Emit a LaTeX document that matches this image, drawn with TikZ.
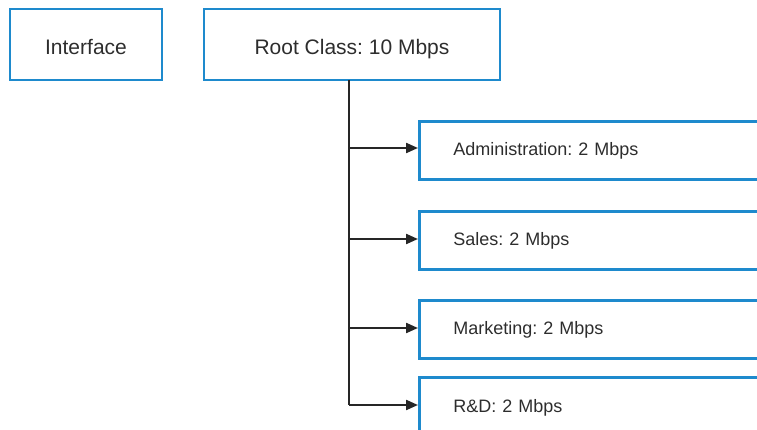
\documentclass[tikz,border=0pt]{standalone}
\usepackage{fontspec}
\setmainfont{Liberation Sans}
\usetikzlibrary{arrows.meta}
\definecolor{boxblue}{RGB}{30,138,205}
\definecolor{txt}{RGB}{45,45,45}
\frenchspacing
\tikzset{
  bigbox/.style={draw=boxblue, line width=2.8pt, rectangle, minimum height=71pt, text=txt, font=\fontsize{21}{25}\selectfont, inner sep=0pt, text height=21pt, text depth=0pt},
  classbox/.style={draw=boxblue, line width=2.8pt, rectangle, anchor=north west, minimum height=58pt, text width=314pt, inner xsep=34pt, inner ysep=0pt, align=left, text=txt, font=\fontsize{18}{22}\selectfont},
  link/.style={line width=2.2pt, black!85},
  arr/.style={link, -{Triangle[length=12pt,width=10pt]}}
}
\begin{document}
\begin{tikzpicture}[x=1pt,y=-1pt]
\useasboundingbox (0,0) rectangle (757,430);
\clip (0,0) rectangle (757,430);
\node[bigbox, minimum width=152pt] (iface) at (86,44.5) {Interface};
\node[bigbox, minimum width=296pt] (root) at (352,44.5) {Root Class: 10 Mbps};
\node[classbox] (adm) at (418,120) {Administration: 2 Mbps};
\node[classbox] (sales) at (418,210) {Sales: 2 Mbps};
\node[classbox] (mkt) at (418,299) {Marketing: 2 Mbps};
\node[classbox, minimum height=60pt] (rd) at (418,376) {R\&D: 2 Mbps};
\coordinate (top) at (349,80);
\coordinate (j1) at (349,148);
\coordinate (j2) at (349,239);
\coordinate (j3) at (349,328);
\coordinate (j4) at (349,405);
\draw[link] (top) -- (j4);
\draw[arr] (j1) -- (j1 -| adm.west);
\draw[arr] (j2) -- (j2 -| sales.west);
\draw[arr] (j3) -- (j3 -| mkt.west);
\draw[arr] (j4) -- (j4 -| rd.west);
\end{tikzpicture}
\end{document}
